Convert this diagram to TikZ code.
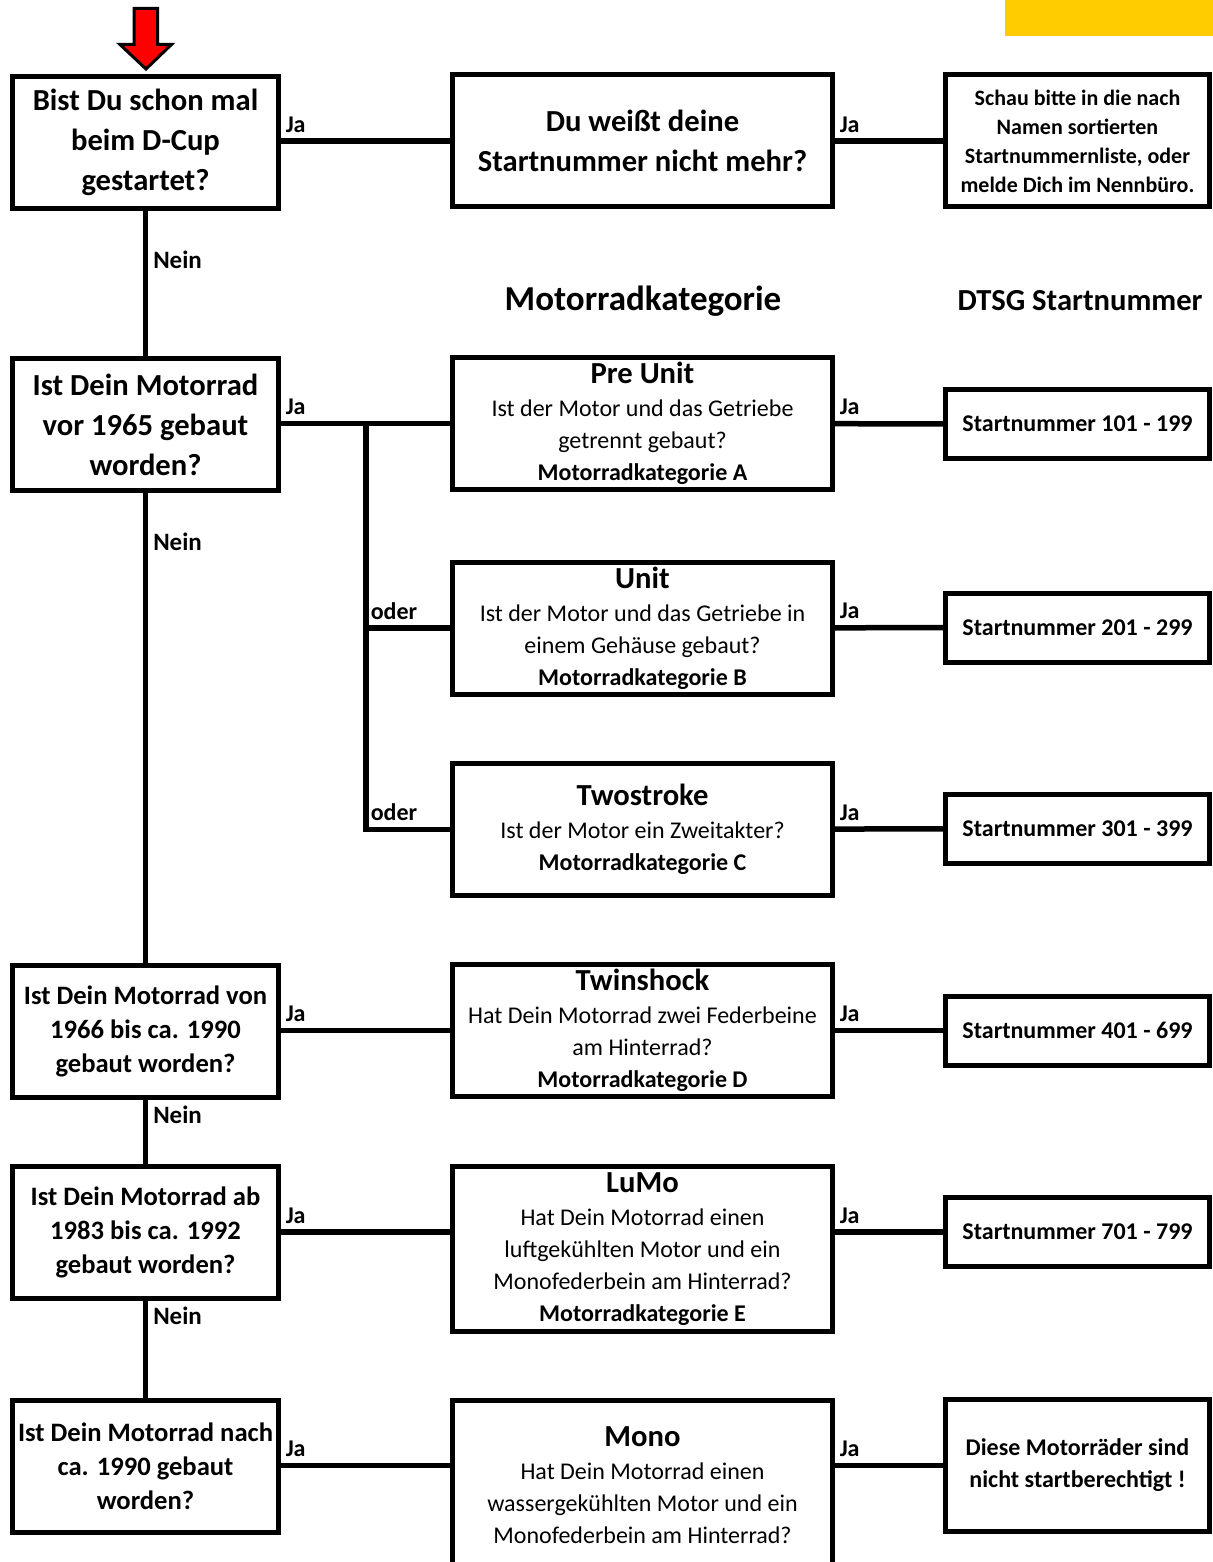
\documentclass[tikz,border=0pt]{standalone}
\usepackage{fontspec}
\setmainfont{Carlito}
\definecolor{gelb}{RGB}{255,204,0}
\tikzset{
  box/.style={draw, line width=2.5pt, inner sep=0pt, align=center},
  frage/.style={box, minimum width=133pt, minimum height=66pt, font=\bfseries\fontsize{15.3}{20}\selectfont},
  frage2/.style={frage, font=\bfseries\fontsize{13.3}{17}\selectfont},
  kat/.style={box, minimum width=190pt, minimum height=66pt, font=\fontsize{12}{16}\selectfont},
  nummer/.style={box, minimum width=132pt, minimum height=34.5pt, font=\bfseries\fontsize{12}{16}\selectfont},
  linie/.style={line width=2.75pt},
  ja/.style={above right, inner sep=1pt, yshift=2pt, font=\bfseries\fontsize{12}{14}\selectfont},
  nein/.style={right, inner sep=2.5pt, font=\bfseries\fontsize{12.5}{14}\selectfont},
  titel/.style={font=\bfseries\fontsize{15.3}{18}\selectfont},
}
\begin{document}
\begin{tikzpicture}[x=0.5pt,y=-0.5pt]
\useasboundingbox (0,0) rectangle (1213,1562);
\fill[gelb] (1005,0) rectangle (1213,36);
% start arrow
\draw[line width=1.5pt, fill=red] (134,8.5) -- (157.5,8.5) -- (157.5,44.5) -- (171.5,44.5) -- (146,69) -- (120,44.5) -- (134,44.5) -- cycle;
% questions
\node[frage] (q1) at (145.5,142.5) {Bist Du schon mal\\beim D-Cup\\gestartet?};
\node[frage] (q2) at (145.5,424.5) {Ist Dein Motorrad\\vor 1965 gebaut\\worden?};
\node[frage2] (q3) at (145.5,1031.5) {Ist Dein Motorrad von\\1966 bis ca. 1990\\gebaut worden?};
\node[frage2] (q4) at (145.5,1232) {Ist Dein Motorrad ab\\1983 bis ca. 1992\\gebaut worden?};
\node[frage2] (q5) at (145.5,1466.5) {Ist Dein Motorrad nach\\ca. 1990 gebaut\\worden?};
% headings
\node[font=\bfseries\fontsize{17.5}{20}\selectfont] (hkat) at (643,301) {Motorradkategorie};
\node[titel] (hnr) at (1080,301) {DTSG Startnummer};
% categories
\node[kat, font=\bfseries\fontsize{15.3}{20}\selectfont] (k0) at (642.5,141) {Du weißt deine\\Startnummer nicht mehr?};
\node[kat] (ka) at (642.5,423.5) {{\bfseries\fontsize{15.3}{18}\selectfont Pre Unit}\\[0.5pt]Ist der Motor und das Getriebe\\getrennt gebaut?\\\textbf{Motorradkategorie A}};
\node[kat] (kb) at (642.5,628) {{\bfseries\fontsize{15.3}{18}\selectfont Unit}\\[0.5pt]Ist der Motor und das Getriebe in\\einem Gehäuse gebaut?\\\textbf{Motorradkategorie B}};
\node[kat] (kc) at (642.5,829.5) {{\bfseries\fontsize{15.3}{18}\selectfont Twostroke}\\[0.5pt]Ist der Motor ein Zweitakter?\\\textbf{Motorradkategorie C}};
\node[kat] (kd) at (642.5,1030.5) {{\bfseries\fontsize{15.3}{18}\selectfont Twinshock}\\[0.5pt]Hat Dein Motorrad zwei Federbeine\\am Hinterrad?\\\textbf{Motorradkategorie D}};
\node[kat, minimum height=82.5pt] (ke) at (642.5,1249) {{\bfseries\fontsize{15.3}{18}\selectfont LuMo}\\[0.5pt]Hat Dein Motorrad einen\\luftgekühlten Motor und ein\\Monofederbein am Hinterrad?\\\textbf{Motorradkategorie E}};
\node[kat, minimum height=85pt] (kf) at (642.5,1485) {{\bfseries\fontsize{15.3}{18}\selectfont Mono}\\[0.5pt]Hat Dein Motorrad einen\\wassergekühlten Motor und ein\\Monofederbein am Hinterrad?};
% numbers
\node[nummer, minimum height=66pt, font=\bfseries\fontsize{11}{14.5}\selectfont] (n0) at (1077.5,141) {Schau bitte in die nach\\Namen sortierten\\Startnummernliste, oder\\melde Dich im Nennbüro.};
\node[nummer] (n1) at (1077.5,424) {Startnummer 101 - 199};
\node[nummer] (n2) at (1077.5,627.5) {Startnummer 201 - 299};
\node[nummer] (n3) at (1077.5,828.5) {Startnummer 301 - 399};
\node[nummer] (n4) at (1077.5,1030.5) {Startnummer 401 - 699};
\node[nummer] (n5) at (1077.5,1232) {Startnummer 701 - 799};
\node[nummer, minimum height=66pt] (n6) at (1077.5,1465.5) {Diese Motorräder sind\\nicht startberechtigt !};
% Nein
\draw[linie] (q1) -- node[nein,pos=.34]{Nein} (q2);
\draw[linie] (q2) -- node[nein,pos=.104]{Nein} (q3);
\draw[linie] (q3) -- node[nein,pos=.23]{Nein} (q4);
\draw[linie] (q4) -- node[nein,pos=.16]{Nein} (q5);
% Ja
\draw[linie] (q1.east |- k0) -- node[ja,pos=0]{Ja} (k0);
\draw[linie] (k0) -- node[ja,pos=0]{Ja} (n0);
\draw[linie] (q2.east |- ka) -- node[ja,pos=0]{Ja} (ka);
\coordinate (br) at (366,423.5);
\draw[linie] (br) |- node[ja]{oder} (kb);
\draw[linie] (br) |- node[ja]{oder} (kc);
\draw[linie] (ka) -- node[ja,pos=0]{Ja} (n1);
\draw[linie] (kb) -- node[ja,pos=0]{Ja} (n2);
\draw[linie] (kc) -- node[ja,pos=0]{Ja} (n3);
\draw[linie] (q3.east |- kd) -- node[ja,pos=0]{Ja} (kd);
\draw[linie] (kd) -- node[ja,pos=0]{Ja} (n4);
\draw[linie] (q4.east) -- node[ja,pos=0]{Ja} (q4.east -| ke.west);
\draw[linie] (ke.east |- n5) -- node[ja,pos=0]{Ja} (n5);
\draw[linie] (q5.east |- n6) -- node[ja,pos=0]{Ja} (n6 -| kf.west);
\draw[linie] (kf.east |- n6) -- node[ja,pos=0]{Ja} (n6);
\end{tikzpicture}
\end{document}
